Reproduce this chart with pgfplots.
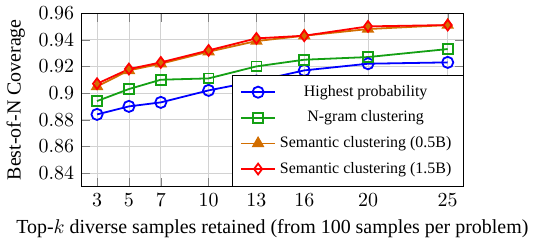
\documentclass[border=0pt]{standalone}
\usepackage{fontspec}
\setmainfont{Liberation Serif}
\usepackage{pgfplots}
\pgfplotsset{compat=1.18}
\definecolor{cgreen}{RGB}{20,160,20}
\definecolor{corange}{RGB}{210,110,0}
\begin{document}
\begin{tikzpicture}
\begin{axis}[
  width=192pt, height=87pt, scale only axis,
  xmin=2, xmax=26, ymin=0.83, ymax=0.96,
  xtick={3,5,7,10,13,16,20,25},
  ytick={0.84,0.86,0.88,0.9,0.92,0.94,0.96},
  yticklabel style={/pgf/number format/fixed,/pgf/number format/precision=2},
  grid=major, major grid style={gray!35},
  xlabel={Top-$k$ diverse samples retained (from 100 samples per problem)},
  ylabel={Best-of-N Coverage},
  legend style={at={(1,0)}, anchor=south east, font=\footnotesize, row sep=1.8pt,
    inner xsep=4pt, inner ysep=3pt},
  legend cell align=center,
  every axis plot/.append style={line width=0.9pt},
]
\addplot[blue, mark=o, mark options={fill=white, solid}, mark size=2.8pt] coordinates {
(3,0.884) (5,0.890) (7,0.893) (10,0.902) (13,0.909) (16,0.917) (20,0.922) (25,0.923)};
\addlegendentry{Highest probability}
\addplot[cgreen, mark=square, mark options={fill=white}, mark size=2.5pt] coordinates {
(3,0.894) (5,0.903) (7,0.910) (10,0.911) (13,0.920) (16,0.925) (20,0.927) (25,0.933)};
\addlegendentry{N-gram clustering}
\addplot[corange, mark=triangle*, mark size=2.8pt] coordinates {
(3,0.905) (5,0.917) (7,0.922) (10,0.931) (13,0.939) (16,0.943) (20,0.948) (25,0.951)};
\addlegendentry{Semantic clustering (0.5B)}
\addplot[red, mark=diamond, mark size=2.7pt] coordinates {
(3,0.907) (5,0.918) (7,0.923) (10,0.932) (13,0.941) (16,0.943) (20,0.950) (25,0.951)};
\addlegendentry{Semantic clustering (1.5B)}
\end{axis}
\end{tikzpicture}
\end{document}
